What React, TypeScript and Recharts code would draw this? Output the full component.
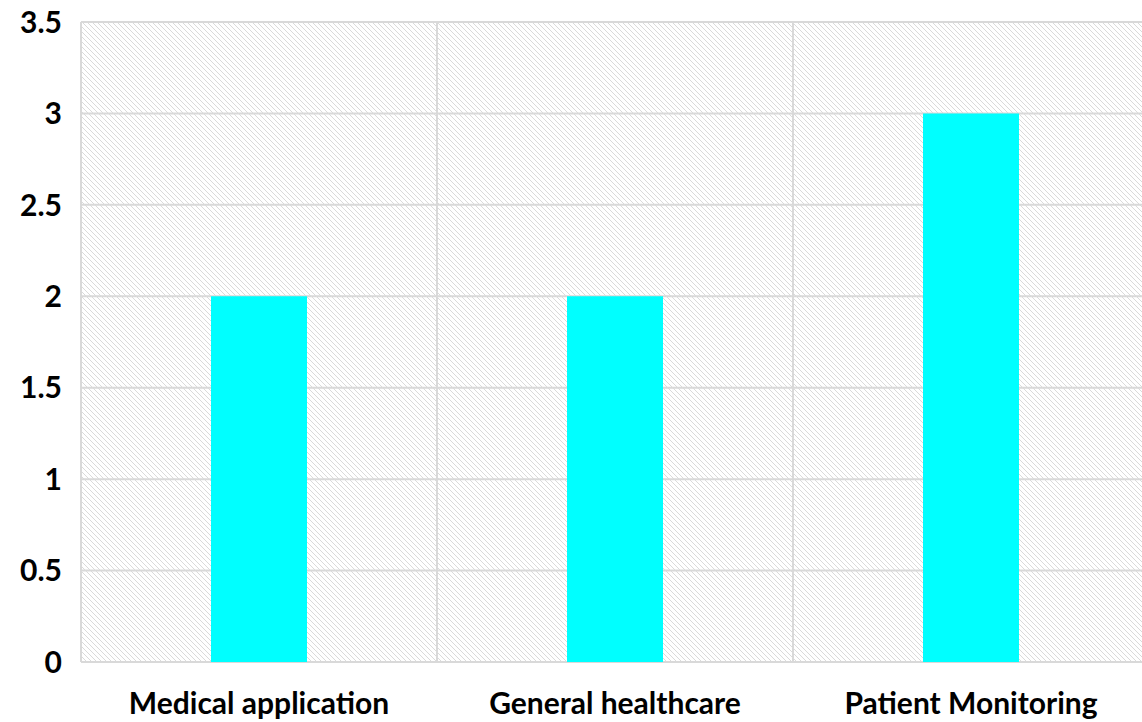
import { BarChart, Bar, XAxis, YAxis, CartesianGrid } from 'recharts'

const categories = ['Medical application', 'General healthcare', 'Patient Monitoring']
const counts = [2, 2, 3]
const yTicks = [0, 0.5, 1, 1.5, 2, 2.5, 3, 3.5]

const data = categories.map((name, i) => ({ name, value: counts[i] }))

const font = { fontFamily: 'Lato', fontWeight: 700, fontSize: 30, fill: '#000' }

export default function App() {
  return (
    <div style={{ position: 'absolute', left: 0, top: 0 }}>
      <BarChart width={1150} height={722} data={data} margin={{ top: 22, right: 1, bottom: 0, left: 0 }}>
        <defs>
          <pattern id="hatch" width={5} height={5} patternUnits="userSpaceOnUse">
            <path d="M0,0 L5,5 M-1,4 L1,6 M4,-1 L6,1" stroke="#dadada" strokeWidth={1} />
          </pattern>
        </defs>
        <CartesianGrid
          fill="url(#hatch)"
          fillOpacity={1}
          stroke="#d9d9d9"
          strokeWidth={2}
          verticalCoordinatesGenerator={({ offset }: any) =>
            categories.map((_, i) => offset.left + (offset.width * i) / categories.length)
          }
        />
        <XAxis
          dataKey="name"
          axisLine={false}
          tickLine={false}
          height={60}
          tickMargin={25}
          tick={font}
        />
        <YAxis
          domain={[0, 3.5]}
          ticks={yTicks}
          axisLine={false}
          tickLine={false}
          width={81}
          tickMargin={13}
          tick={font}
        />
        <Bar dataKey="value" fill="#00ffff" barSize={96} isAnimationActive={false} />
      </BarChart>
    </div>
  )
}
